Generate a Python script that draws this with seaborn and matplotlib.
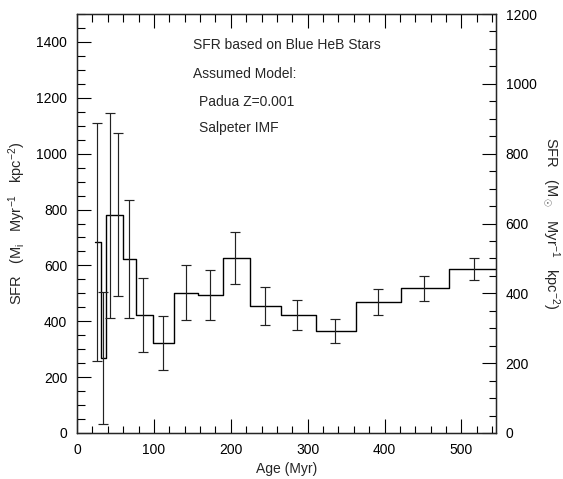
import matplotlib
matplotlib.use("Agg")
import matplotlib.pyplot as plt
from matplotlib.ticker import MultipleLocator
import seaborn as sns
import pandas as pd

# ---- data ----
bin_edges = [23.4, 30.6, 37.7, 48, 60, 77, 99, 126.5, 157.7, 189.5, 225, 265, 311, 363, 421.7, 484, 548]
sfr_values = [684, 268, 780, 782, 623, 423, 323, 502, 494, 627, 454, 422, 366, 469, 518, 586]
sfr_errors = [425, 236, 367, 293, 211, 132, 97, 99, 89, 92, 67, 55, 43, 45, 44, 40]
err_ages = [26.4, 34.2, 42.9, 53.3, 67, 86, 111.4, 141.7, 173, 206, 244, 286.5, 335, 391.4, 451, 516]

annotations = ["SFR based on Blue HeB Stars", "Assumed Model:", "Padua Z=0.001", "Salpeter IMF"]

sns.set_style("ticks")
plt.rcParams["font.family"] = ["Liberation Sans", "DejaVu Sans"]
plt.rcParams["mathtext.fontset"] = "custom"
plt.rcParams["mathtext.rm"] = "Liberation Sans"
plt.rcParams["mathtext.it"] = "Liberation Sans"
plt.rcParams["mathtext.bf"] = "Liberation Sans:bold"

fig = plt.figure(figsize=(5.63, 4.79), dpi=100)
ax = fig.add_axes([77 / 563, 1 - 433 / 479, 419 / 563, 419 / 479])

step_df = pd.DataFrame({"age": bin_edges, "sfr": sfr_values + [sfr_values[-1]]})
sns.lineplot(data=step_df, x="age", y="sfr", drawstyle="steps-post", color="black",
             linewidth=1.0, ax=ax, sort=False)
ax.errorbar(err_ages, sfr_values, yerr=sfr_errors, fmt="none", ecolor="#222222",
            elinewidth=0.85, capsize=3.8, capthick=0.85)

ax.set_xlim(0, 545)
ax.set_ylim(0, 1500)
ax.xaxis.set_major_locator(MultipleLocator(100))
ax.xaxis.set_minor_locator(MultipleLocator(20))
ax.yaxis.set_major_locator(MultipleLocator(200))
ax.yaxis.set_minor_locator(MultipleLocator(50))
ax.tick_params(which="both", direction="in", top=True, right=False, labelsize=10,
               colors="black", width=0.8)
ax.tick_params(which="major", length=10.4, pad=7)
ax.tick_params(which="minor", length=5.4)
for s in ax.spines.values():
    s.set_visible(True)
    s.set_linewidth(0.9)
    s.set_color("black")

ax.set_xlabel("Age (Myr)", fontsize=10, labelpad=4)
ax.set_ylabel(r"SFR   (M$_\mathrm{i}$   Myr$^{-1}$   kpc$^{-2}$)", fontsize=10.5, labelpad=6)

ax2 = ax.twinx()
ax2.set_ylim(0, 1200)
ax2.yaxis.set_major_locator(MultipleLocator(200))
ax2.yaxis.set_minor_locator(MultipleLocator(50))
ax2.tick_params(which="both", direction="in", labelsize=10, colors="black", width=0.8)
ax2.tick_params(which="major", length=10.4, pad=7)
ax2.tick_params(which="minor", length=5.4)
ax2.set_ylabel(r"SFR   (M$_\odot$   Myr$^{-1}$   kpc$^{-2}$)", fontsize=10.5, rotation=270,
               labelpad=18)
for s in ax2.spines.values():
    s.set_linewidth(0.9)

ypos = [45, 74, 102, 128]
xpos = [193, 193, 199, 199]
for t, px, py in zip(annotations, xpos, ypos):
    ax.text((px - 77) / 419, (433 - py) / 419, t, transform=ax.transAxes,
            fontsize=10, ha="left", va="center")

fig.savefig("out.png", dpi=100)
